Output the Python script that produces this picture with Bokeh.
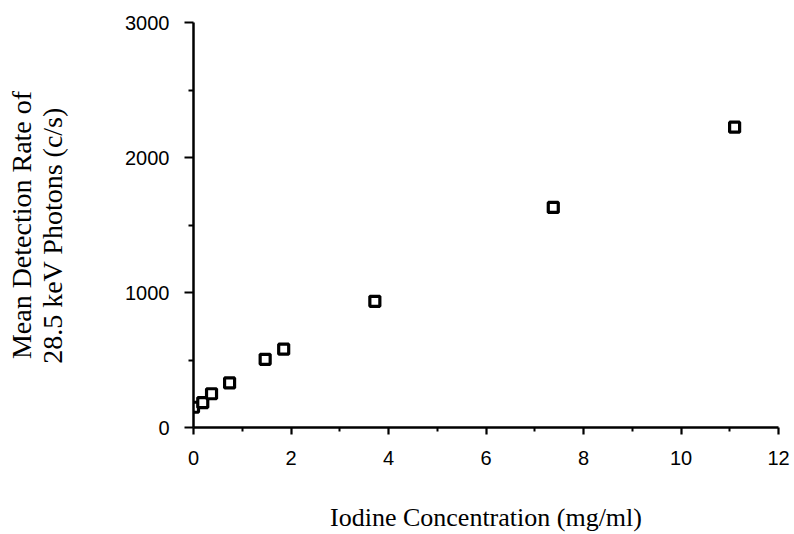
from bokeh.plotting import figure
from bokeh.models import Range1d, FixedTicker
from bokeh.embed import file_html
from bokeh.resources import INLINE

# Data
iodine_mg_ml = [0.0, 0.19, 0.37, 0.74, 1.47, 1.85, 3.72, 7.38, 11.1]
rate_cps = [150, 185, 250, 330, 505, 580, 935, 1630, 2225]

x_ticks = [0, 2, 4, 6, 8, 10, 12]
x_minor = [1, 3, 5, 7, 9, 11]
y_ticks = [0, 1000, 2000, 3000]
y_minor = [500, 1500, 2500]

p = figure(width=794, height=534, output_backend="svg", toolbar_location=None,
           x_range=Range1d(0, 12), y_range=Range1d(0, 3000),
           min_border_left=193, min_border_right=16, min_border_top=22,
           min_border_bottom=107)
p.outline_line_color = None
p.grid.visible = False
p.background_fill_color = "white"
p.border_fill_color = "white"

p.scatter(iodine_mg_ml, rate_cps, marker="square", size=10,
          fill_color="white", line_color="black", line_width=3.2)

for ax in (p.xaxis[0], p.yaxis[0]):
    ax.axis_line_width = 2.5
    ax.axis_line_color = "black"
    ax.major_tick_line_width = 2.2
    ax.minor_tick_line_width = 2.0
    ax.major_tick_in = 0
    ax.minor_tick_in = 0
    ax.major_label_text_font = "Liberation Sans"
    ax.major_label_text_font_size = "20px"
    ax.major_label_text_color = "black"
    ax.axis_label_text_font = "Liberation Serif"
    ax.axis_label_text_font_style = "normal"
    ax.axis_label_text_color = "black"
    ax.axis_label_text_line_height = 1.0

p.xaxis.axis_label_text_font_size = "26px"
p.yaxis.axis_label_text_font_size = "28px"

p.xaxis.ticker = FixedTicker(ticks=x_ticks, minor_ticks=x_minor)
p.yaxis.ticker = FixedTicker(ticks=y_ticks, minor_ticks=y_minor)
p.xaxis.major_tick_out = 7
p.xaxis.minor_tick_out = 4
p.yaxis.major_tick_out = 9
p.yaxis.minor_tick_out = 5
p.xaxis.major_label_standoff = 16
p.yaxis.major_label_standoff = 15

p.xaxis.axis_label = "Iodine Concentration (mg/ml)"
p.xaxis.axis_label_standoff = 35
p.yaxis.axis_label = "Mean Detection Rate of\n28.5  keV  Photons  (c/s)"
p.yaxis.axis_label_standoff = 54

open("out.html", "w").write(file_html(p, INLINE))
